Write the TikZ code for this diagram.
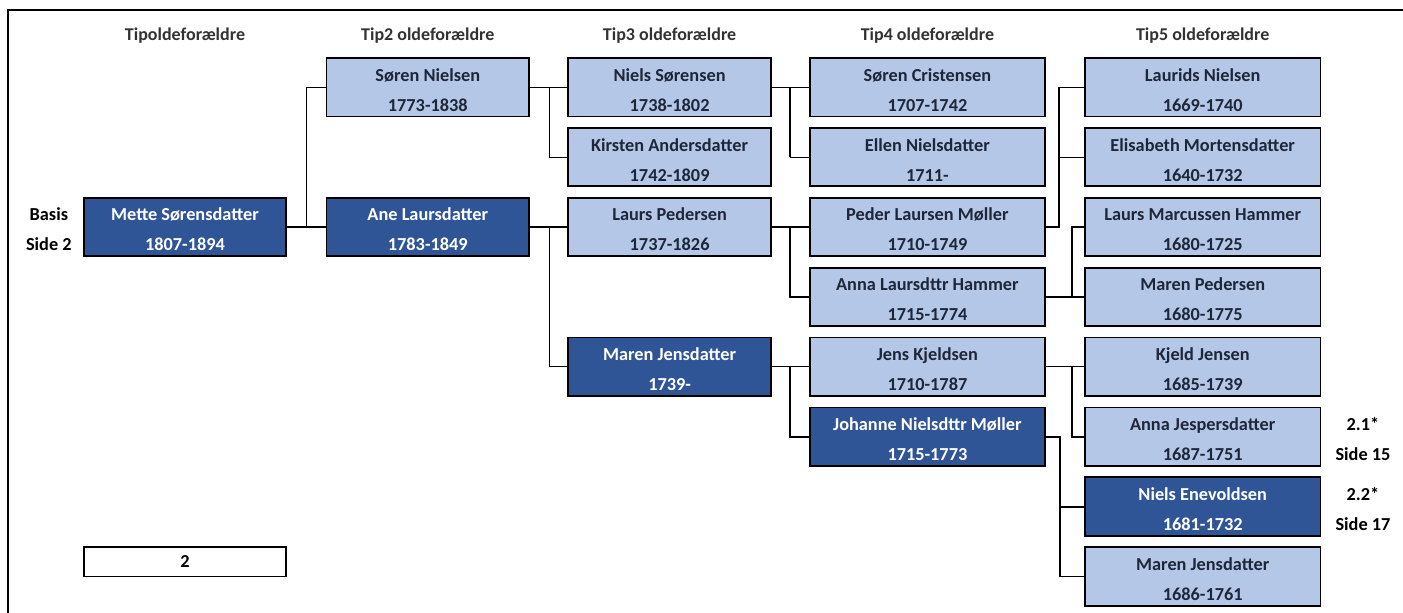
\documentclass[tikz,border=0pt]{standalone}
\usepackage{fontspec}
\setmainfont{Carlito}
\usepackage{tikz}
\usetikzlibrary{positioning}

\definecolor{leadblue}{RGB}{47,85,151}
\definecolor{kinblue}{RGB}{180,199,231}
\definecolor{kintext}{RGB}{30,38,58}
\definecolor{headgray}{RGB}{50,50,50}

% name line over year line
\newcommand{\namedate}[2]{\rule{0pt}{18pt}#1\\#2}

\begin{document}
\begin{tikzpicture}[
        x=1pt, y=-1pt,
        person/.style={
            rectangle,
            minimum width=202.5pt,
            minimum height=58.5pt,
            align=center,
            draw=black,
            fill=kinblue,
            text=kintext,
            line width=1.8pt,
            font=\bfseries\fontsize{18.3}{30}\selectfont
        },
        lead/.style={person, fill=leadblue, text=white},
        wide/.style={minimum width=235.5pt},
        head/.style={text=headgray, font=\bfseries\fontsize{18}{20}\selectfont},
        side/.style={align=center, inner sep=0pt, text=black,
            font=\bfseries\fontsize{18.3}{30}\selectfont},
        weak/.style={draw=black, line width=0.9pt},
        strong/.style={draw=black, line width=2pt}
    ]
        \useasboundingbox (0,0) rectangle (1403,613);
        \draw [line width=1.8pt] (8,613) -- (8,10) -- (1403,10);

        \node (mette) [lead] at (185,227) {\namedate{Mette Sørensdatter}{1807-1894}};
        \node (ane) [lead, right=38.5pt of mette] {\namedate{Ane Laursdatter}{1783-1849}};
        \node (sorenN) [person, above=79.5pt of ane] {\namedate{Søren Nielsen}{1773-1838}};

        \node (niels) [person, right=37.5pt of sorenN] {\namedate{Niels Sørensen}{1738-1802}};
        \node (kirsten) [person, below=9.6pt of niels] {\namedate{Kirsten Andersdatter}{1742-1809}};
        \node (laursP) [person, below=9.6pt of kirsten] {\namedate{Laurs Pedersen}{1737-1826}};
        \node (marenJ) [lead, below=79.5pt of laursP] {\namedate{Maren Jensdatter}{1739-}};

        \node (sorenC) [person, wide, right=37pt of niels] {\namedate{Søren Cristensen}{1707-1742}};
        \node (ellen) [person, wide, below=9.6pt of sorenC] {\namedate{Ellen Nielsdatter}{1711-}};
        \node (peder) [person, wide, below=9.6pt of ellen] {\namedate{Peder Laursen Møller}{1710-1749}};
        \node (annaL) [person, wide, below=9.6pt of peder] {\namedate{Anna Laursdttr Hammer}{1715-1774}};
        \node (jensK) [person, wide, below=9.6pt of annaL] {\namedate{Jens Kjeldsen}{1710-1787}};
        \node (johanne) [lead, wide, below=9.6pt of jensK] {\namedate{Johanne Nielsdttr Møller}{1715-1773}};

        \node (laurids) [person, wide, right=38pt of sorenC] {\namedate{Laurids Nielsen}{1669-1740}};
        \node (elisabeth) [person, wide, below=9.6pt of laurids] {\namedate{Elisabeth Mortensdatter}{1640-1732}};
        \node (laursM) [person, wide, below=9.6pt of elisabeth] {\namedate{Laurs Marcussen Hammer}{1680-1725}};
        \node (marenP) [person, wide, below=9.6pt of laursM] {\namedate{Maren Pedersen}{1680-1775}};
        \node (kjeld) [person, wide, below=9.6pt of marenP] {\namedate{Kjeld Jensen}{1685-1739}};
        \node (annaJ) [person, wide, below=9.6pt of kjeld] {\namedate{Anna Jespersdatter}{1687-1751}};
        \node (nielsE) [lead, wide, below=9.6pt of annaJ] {\namedate{Niels Enevoldsen}{1681-1732}};
        \node (marenJ2) [person, wide, below=9.6pt of nielsE] {\namedate{Maren Jensdatter}{1686-1761}};

        \node (pageno) [person, fill=white, text=black, minimum height=29.5pt,
            below=289pt of mette] {2};

        \node (basis) [side, left=11pt of mette] {\namedate{Basis}{Side 2}};
        \node (ref1) [side, right=14pt of annaJ] {\namedate{2.1*}{Side 15}};
        \node (ref2) [side, right=14pt of nielsE] {\namedate{2.2*}{Side 17}};

        \node (h1) [head] at (mette |- 0,36) {Tipoldeforældre};
        \node (h2) [head] at (ane |- 0,36) {Tip2 oldeforældre};
        \node (h3) [head] at (niels |- 0,36) {Tip3 oldeforældre};
        \node (h4) [head] at (sorenC |- 0,36) {Tip4 oldeforældre};
        \node (h5) [head] at (laurids |- 0,36) {Tip5 oldeforældre};

        % Tipoldeforældre and Tip2
        \draw [strong] (mette) -- (ane);
        \draw [weak] ([xshift=19.5pt]mette.east) |- (sorenN);
        \draw [weak] (sorenN) -- (niels);
        \draw [weak] ([xshift=19pt]sorenN.east) |- (kirsten);
        \draw [strong] (ane) -- (laursP);
        \draw [weak] ([xshift=19pt]ane.east) |- (marenJ);

        % Tip3 to Tip4
        \coordinate (f1) at ([xshift=18.5pt]niels.east);
        \coordinate (f2) at ([xshift=18.5pt]laursP.east);
        \coordinate (f3) at ([xshift=18.5pt]marenJ.east);
        \draw [weak] (niels) -- (sorenC);
        \draw [weak] (f1) |- (ellen);
        \draw [strong] (f1) -- (f1 |- ellen);
        \draw [strong] (laursP) -- (peder);
        \draw [strong] (f2) |- (annaL);
        \draw [weak] (marenJ) -- (jensK);
        \draw [strong] (f3) |- (johanne);

        % Tip4 to Tip5
        \coordinate (f4) at ([xshift=13pt]peder.east);
        \coordinate (f5) at ([xshift=26pt]annaL.east);
        \coordinate (f6) at ([xshift=26pt]jensK.east);
        \coordinate (f7) at ([xshift=14pt]johanne.east);
        \draw [weak] (f4 |- laurids) -- (laurids);
        \draw [weak] (f4 |- elisabeth) -- (elisabeth);
        \draw [strong] (peder.east) -| (f4 |- laurids);
        \draw [strong] (annaL) -- (marenP);
        \draw [strong] (f5) |- (laursM);
        \draw [weak] (jensK) -- (kjeld);
        \draw [strong] (f6) |- (annaJ);
        \draw [weak] (f7 |- marenJ2) -- (marenJ2);
        \draw [strong] (johanne.east) -| (f7 |- marenJ2);
        \draw [strong] (f7 |- nielsE) -- (nielsE);
    \end{tikzpicture}
\end{document}
